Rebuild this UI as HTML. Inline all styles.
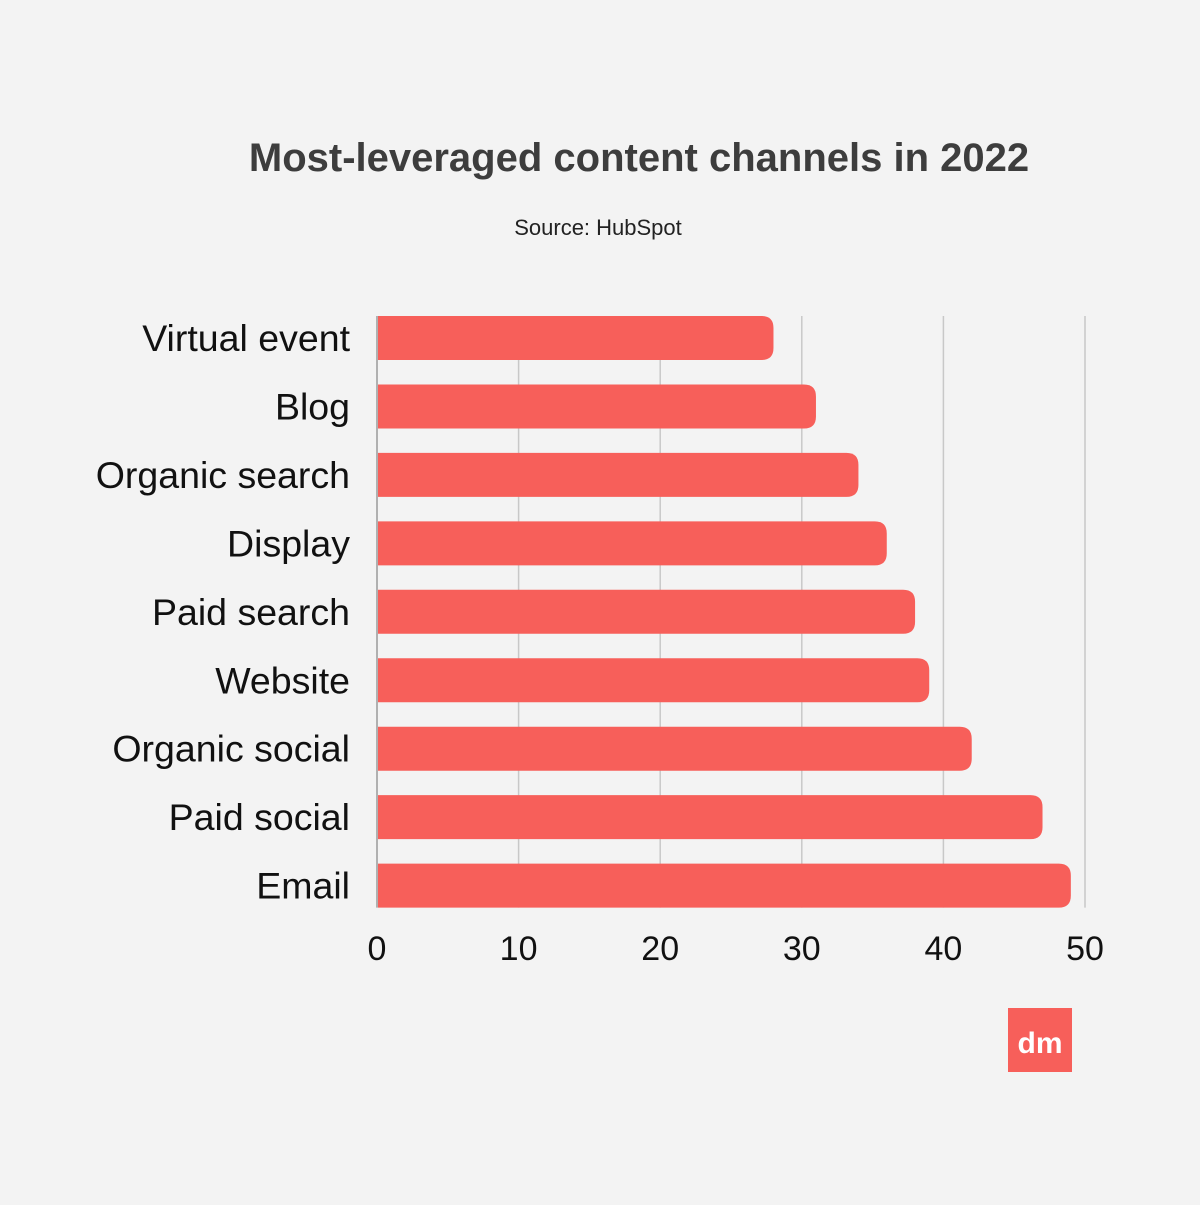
<!DOCTYPE html>
<html><head><meta charset="utf-8"><style>
html,body{margin:0;padding:0;background:#f3f3f3;}
body{width:1200px;height:1200px;overflow:hidden;font-family:"Liberation Sans",sans-serif;}
</style></head><body>
<svg width="1200" height="1200" xmlns="http://www.w3.org/2000/svg">
<rect width="1200" height="1200" fill="#f3f3f3"/>
<text x="639" y="171" text-anchor="middle" font-family="Liberation Sans, sans-serif" font-weight="bold" font-size="40" fill="#3d3d3d">Most-leveraged content channels in 2022</text>
<text x="598" y="235" text-anchor="middle" font-family="Liberation Sans, sans-serif" font-size="22" fill="#222">Source: HubSpot</text>
<g id="grid"></g>
<g id="bars"></g>
<g id="ylabels"></g>
<g id="xticks"></g>
<rect x="1008" y="1008" width="64" height="64" fill="#f75f5a"/>
<text x="1040" y="1053" text-anchor="middle" font-family="Liberation Sans, sans-serif" font-weight="bold" font-size="30" fill="#fff">dm</text>
</svg>
<script>
const categories = ["Virtual event","Blog","Organic search","Display","Paid search","Website","Organic social","Paid social","Email"];
const values = [28,31,34,36,38,39,42,47,49];
const ticks = [0,10,20,30,40,50];
const NS="http://www.w3.org/2000/svg";
const x0=377, x1=1085, vmax=50;
const xs=v=>x0+(x1-x0)*v/vmax;
const top0=316, pitch=68.45, bh=44;
function mk(tag,attrs,parent){const e=document.createElementNS(NS,tag);for(const k in attrs)e.setAttribute(k,attrs[k]);document.getElementById(parent).appendChild(e);return e;}
const gb=top0+pitch*(categories.length-1)+bh;
ticks.forEach(t=>{
  if(t>0){const l=mk('line',{x1:xs(t),x2:xs(t),y1:top0,y2:gb,stroke:'#c8c8c8','stroke-width':1.5},'grid');
  
  }
  const tx=mk('text',{x:xs(t),y:960,'text-anchor':'middle','font-size':34,fill:'#111','font-family':'Liberation Sans, sans-serif'},'xticks');
  tx.textContent=t;
  
  
});
const ax=mk('line',{x1:x0,x2:x0,y1:top0,y2:gb,stroke:'#b0b0b0','stroke-width':2},'grid');


categories.forEach((c,i)=>{
  const y=top0+pitch*i, xe=xs(values[i]), r=12, xl=x0+1;
  const p=mk('path',{d:`M${xl},${y} H${xe-r} Q${xe},${y} ${xe},${y+r} V${y+bh-r} Q${xe},${y+bh} ${xe-r},${y+bh} H${xl} Z`,fill:'#f75f5a'},'bars');
  
  
  const t=mk('text',{x:350,y:y+bh/2+13,'text-anchor':'end','font-size':37.5,fill:'#111','font-family':'Liberation Sans, sans-serif'},'ylabels');
  t.textContent=c;
  
  
});
</script>
</body></html>
